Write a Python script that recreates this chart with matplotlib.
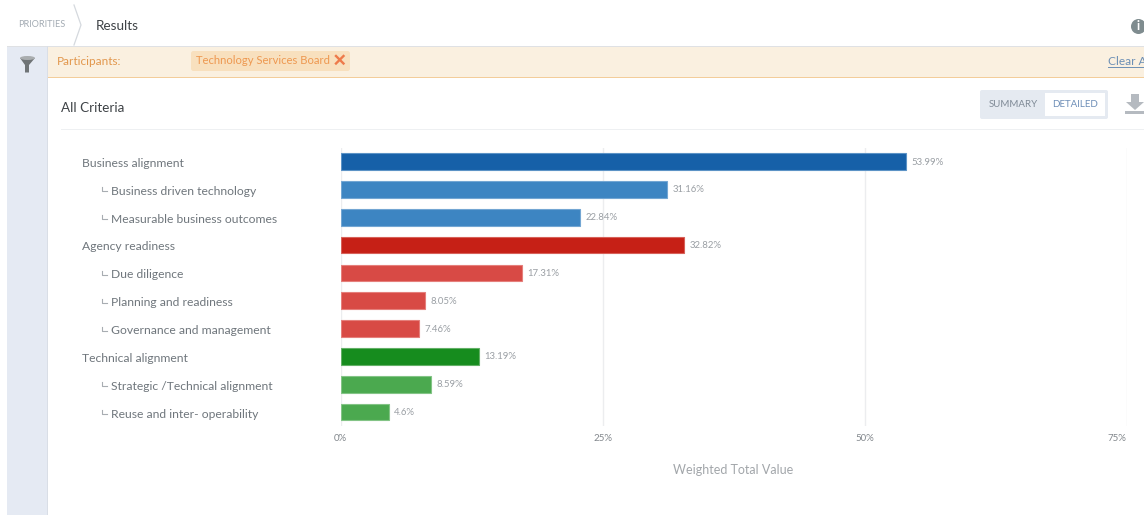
import matplotlib
matplotlib.use("Agg")
import matplotlib.pyplot as plt
from matplotlib.patches import Rectangle, FancyBboxPatch, Polygon, Circle, Ellipse

plt.rcParams["font.family"] = ["Lato", "DejaVu Sans"]

# Weighted scores per criterion
criteria = ["Business alignment", "Business driven technology", "Measurable business outcomes",
            "Agency readiness", "Due diligence", "Planning and readiness", "Governance and management",
            "Technical alignment", "Strategic /Technical alignment", "Reuse and inter- operability"]
values = [53.99, 31.16, 22.84, 32.82, 17.31, 8.05, 7.46, 13.19, 8.59, 4.6]
value_labels = ["53.99%", "31.16%", "22.84%", "32.82%", "17.31%", "8.05%", "7.46%", "13.19%", "8.59%", "4.6%"]
is_child = [False, True, True, False, True, True, True, False, True, True]
bar_colors = ["#1660A8", "#3D85C2", "#3D85C2", "#C62016", "#D84A45", "#D84A45", "#D84A45",
              "#168C1E", "#4BA94F", "#4BA94F"]
edge_colors = ["#5C93C6", "#73A6D3", "#73A6D3", "#D76159", "#E57F7B", "#E57F7B", "#E57F7B",
               "#62B066", "#83C486", "#83C486"]
x_ticks = [0, 25, 50, 75]
x_tick_labels = ["0%", "25%", "50%", "75%"]

W, H = 1144, 515
fig = plt.figure(figsize=(W / 100, H / 100), dpi=100, facecolor="white")

# Page furniture lives on a full-figure axes measured in pixels
ui = fig.add_axes([0, 0, 1, 1], zorder=0)
ui.set_xlim(0, W)
ui.set_ylim(H, 0)
ui.axis("off")


def rect(x, y, w, h, color, **kw):
    ui.add_patch(Rectangle((x, y), w, h, facecolor=color, edgecolor="none", **kw))


def rounded(x, y, w, h, color, r=2):
    ui.add_patch(FancyBboxPatch((x + r, y + r), w - 2 * r, h - 2 * r, boxstyle=f"round,pad={r}",
                                facecolor=color, edgecolor="none"))


# Breadcrumb row
ui.text(18, 24.5, "PRIORITIES", fontsize=6.6, color="#A3ABB3", va="center")
ui.plot([74, 81, 74], [5, 25, 45], color="#D5D9DE", lw=0.9)
ui.text(95.5, 25.5, "Results", fontsize=9.7, color="#3F4347", va="center")
ui.add_patch(Circle((1138.5, 26.5), 7.5, facecolor="#7F8C8F", edgecolor="none"))
ui.text(1138.5, 26.5, "i", fontsize=9, color="white", va="center", ha="center", fontweight="bold")

# Filter side rail and banner
rect(7, 46, 41, H - 46, "#E5EAF3")
rect(7, 45.5, W - 7, 1.2, "#DFE1E4")
rect(48, 47, W - 48, 30, "#FAF0E0")
rect(48, 77, W - 48, 1.2, "#F3CD9A")
rect(47, 46, 1.2, H - 46, "#D9DEE6")
ui.add_patch(Polygon([[20, 58], [35, 58], [29, 65], [29, 72.5], [25, 72.5], [25, 65]],
                     facecolor="#6F7476", edgecolor="none"))
ui.add_patch(Ellipse((27.5, 58), 15, 4, facecolor="#A9ADAF", edgecolor="none"))
ui.text(57, 61.5, "Participants:", fontsize=8.5, color="#E2974D", va="center")
rounded(191, 51, 159, 20, "#F8E0BE", r=2.5)
ui.text(196, 60.5, "Technology Services Board", fontsize=8.1, color="#EE9850", va="center")
ui.plot([336, 343.5], [56, 63.5], color="#EE7A4A", lw=1.7)
ui.plot([336, 343.5], [63.5, 56], color="#EE7A4A", lw=1.7)
ui.text(1108, 61.5, "Clear A", fontsize=8.6, color="#6C8FB5", va="center")
ui.plot([1108, 1144], [67, 67], color="#6C8FB5", lw=0.7)

# Section header
ui.text(61, 107.5, "All Criteria", fontsize=9.7, color="#3F4347", va="center")
rect(61, 129, W - 61, 1, "#EEF0F2")
rounded(980, 90, 128, 29, "#E5EAF1", r=2)
rect(1045, 93, 60, 23, "white")
ui.text(1013.5, 104.5, "SUMMARY", fontsize=7, color="#7F8A96", va="center", ha="center")
ui.text(1075, 104.5, "DETAILED", fontsize=7, color="#6E8FB8", va="center", ha="center")

# Download icon
ui.add_patch(Polygon([[1131, 94], [1139, 94], [1139, 102], [1144, 102], [1135, 110], [1126, 102], [1131, 102]],
                     facecolor="#B5BAC0", edgecolor="none"))
rect(1125, 111, 19, 2.5, "#B5BAC0")

# Bar chart
x_left, x_right, y_top, y_bottom = 340.5, 1126.5, 148, 426
ax = fig.add_axes([x_left / W, 1 - y_bottom / H, (x_right - x_left) / W, (y_bottom - y_top) / H], zorder=1)
ax.patch.set_alpha(0)
ax.set_xlim(0, 75)
ax.set_ylim(9.5, -0.485)

positions = range(len(criteria))
ax.barh(positions, values, height=0.6, color=bar_colors, edgecolor=edge_colors, linewidth=0.8, zorder=3)

for pos, value, text in zip(positions, values, value_labels):
    ax.annotate(text, (value, pos), xytext=(5.5, -0.5), textcoords="offset pixels", fontsize=6.9,
                color="#9A9FA4", va="center", ha="left")

for spine in ax.spines.values():
    spine.set_visible(False)
ax.set_xticks(x_ticks)
ax.set_xticklabels(x_tick_labels, fontsize=7, color="#83888D")
ax.get_xticklabels()[-1].set_ha("right")
ax.tick_params(axis="x", length=0, pad=6)
ax.grid(axis="x", color="#ECEDEF", lw=1, zorder=0)
ax.set_axisbelow(True)

# Category labels, children indented with a small branch mark
ax.set_yticks(list(positions))
ax.set_yticklabels([])
ax.tick_params(axis="y", length=0)
trans = ax.get_yaxis_transform()
for pos, name, child in zip(positions, criteria, is_child):
    x_px = 111.5 if child else 82.5
    ax.text((x_px - x_left) / (x_right - x_left), pos + 0.07, name, transform=trans,
            fontsize=8.75, color="#6F767C", va="center", ha="left", clip_on=False)
    if child:
        px_y = y_top + (pos + 0.485) * (y_bottom - y_top) / 9.985
        ui.plot([102, 102, 107], [px_y - 2, px_y + 2, px_y + 2], color="#A8ADB2", lw=0.8)

ax.text((733.5 - x_left) / (x_right - x_left), -0.158, "Weighted Total Value", transform=ax.transAxes,
        fontsize=9, color="#A2A6AA", ha="center", va="center")

fig.savefig("out.png", dpi=100, facecolor="white")
